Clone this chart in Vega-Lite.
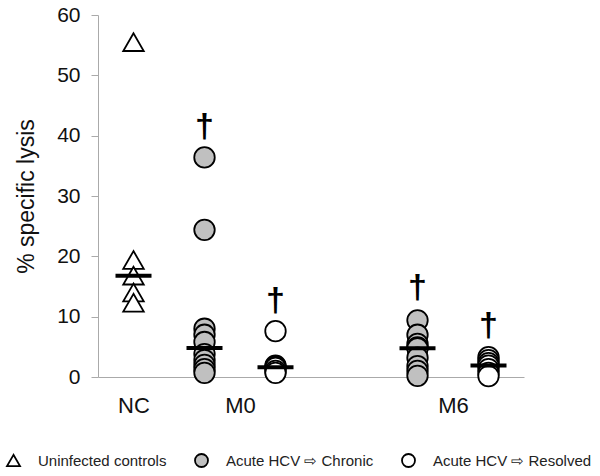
{
  "$schema": "https://vega.github.io/schema/vega-lite/v6.json",
  "width": 426,
  "height": 362,
  "autosize": {"type": "none"},
  "padding": {"left": 98, "top": 15, "right": 76, "bottom": 99},
  "background": "white",
  "config": {
    "view": {"stroke": null},
    "font": "Liberation Sans",
    "axis": {"grid": false, "labelFont": "Liberation Sans", "titleFont": "Liberation Sans"}
  },
  "datasets": {
    "pts": [
      {"col": "NC", "group": "Uninfected controls", "val": 55.5},
      {"col": "NC", "group": "Uninfected controls", "val": 19.4},
      {"col": "NC", "group": "Uninfected controls", "val": 16.8},
      {"col": "NC", "group": "Uninfected controls", "val": 14.0},
      {"col": "NC", "group": "Uninfected controls", "val": 12.3},
      {"col": "M0c", "group": "Acute HCV ⇨ Chronic", "val": 36.4},
      {"col": "M0c", "group": "Acute HCV ⇨ Chronic", "val": 24.4},
      {"col": "M0c", "group": "Acute HCV ⇨ Chronic", "val": 8.0},
      {"col": "M0c", "group": "Acute HCV ⇨ Chronic", "val": 7.0},
      {"col": "M0c", "group": "Acute HCV ⇨ Chronic", "val": 5.8},
      {"col": "M0c", "group": "Acute HCV ⇨ Chronic", "val": 3.8},
      {"col": "M0c", "group": "Acute HCV ⇨ Chronic", "val": 2.8},
      {"col": "M0c", "group": "Acute HCV ⇨ Chronic", "val": 2.0},
      {"col": "M0c", "group": "Acute HCV ⇨ Chronic", "val": 1.3},
      {"col": "M0c", "group": "Acute HCV ⇨ Chronic", "val": 0.7},
      {"col": "M0r", "group": "Acute HCV ⇨ Resolved", "val": 7.6},
      {"col": "M0r", "group": "Acute HCV ⇨ Resolved", "val": 1.9},
      {"col": "M0r", "group": "Acute HCV ⇨ Resolved", "val": 1.7},
      {"col": "M0r", "group": "Acute HCV ⇨ Resolved", "val": 1.5},
      {"col": "M0r", "group": "Acute HCV ⇨ Resolved", "val": 1.0},
      {"col": "M0r", "group": "Acute HCV ⇨ Resolved", "val": 0.7},
      {"col": "M6c", "group": "Acute HCV ⇨ Chronic", "val": 9.4},
      {"col": "M6c", "group": "Acute HCV ⇨ Chronic", "val": 7.0},
      {"col": "M6c", "group": "Acute HCV ⇨ Chronic", "val": 5.5},
      {"col": "M6c", "group": "Acute HCV ⇨ Chronic", "val": 4.9},
      {"col": "M6c", "group": "Acute HCV ⇨ Chronic", "val": 4.75},
      {"col": "M6c", "group": "Acute HCV ⇨ Chronic", "val": 3.2},
      {"col": "M6c", "group": "Acute HCV ⇨ Chronic", "val": 1.8},
      {"col": "M6c", "group": "Acute HCV ⇨ Chronic", "val": 1.0},
      {"col": "M6c", "group": "Acute HCV ⇨ Chronic", "val": 0.2},
      {"col": "M6r", "group": "Acute HCV ⇨ Resolved", "val": 3.3},
      {"col": "M6r", "group": "Acute HCV ⇨ Resolved", "val": 2.8},
      {"col": "M6r", "group": "Acute HCV ⇨ Resolved", "val": 2.3},
      {"col": "M6r", "group": "Acute HCV ⇨ Resolved", "val": 1.9},
      {"col": "M6r", "group": "Acute HCV ⇨ Resolved", "val": 1.3},
      {"col": "M6r", "group": "Acute HCV ⇨ Resolved", "val": 0.7},
      {"col": "M6r", "group": "Acute HCV ⇨ Resolved", "val": 0.15}
    ],
    "daggers": [
      {"col": "M0c", "val": 41.4, "sym": "†"},
      {"col": "M0r", "val": 12.6, "sym": "†"},
      {"col": "M6c", "val": 14.8, "sym": "†"},
      {"col": "M6r", "val": 8.5, "sym": "†"}
    ]
  },
  "encoding": {
    "x": {
      "field": "col",
      "type": "nominal",
      "scale": {
        "type": "point",
        "padding": 1,
        "domain": ["NC", "a", "M0c", "M0", "M0r", "b", "gap", "c", "M6c", "M6", "M6r"]
      },
      "axis": {
        "title": null,
        "values": ["NC", "M0", "M6"],
        "labelAngle": 0,
        "ticks": false,
        "domainColor": "#aaaaaa",
        "domainWidth": 1,
        "labelFontSize": 22,
        "labelColor": "#111111",
        "labelPadding": 18
      }
    },
    "y": {
      "field": "val",
      "type": "quantitative",
      "title": "% specific lysis",
      "scale": {"domain": [0, 60], "nice": false},
      "axis": {
        "values": [0, 10, 20, 30, 40, 50, 60],
        "domainColor": "#aaaaaa",
        "tickColor": "#aaaaaa",
        "tickSize": 7,
        "labelFontSize": 21,
        "labelColor": "#111111",
        "labelPadding": 11,
        "titleFontSize": 23,
        "titleFontWeight": "normal",
        "titleColor": "#111111",
        "titlePadding": 18
      }
    }
  },
  "layer": [
    {
      "data": {"name": "pts"},
      "mark": {"type": "point", "filled": true, "stroke": "black", "strokeWidth": 1.8, "opacity": 1, "size": 420},
      "encoding": {
        "fill": {
          "field": "group",
          "type": "nominal",
          "scale": {
            "domain": ["Uninfected controls", "Acute HCV ⇨ Chronic", "Acute HCV ⇨ Resolved"],
            "range": ["white", "#c0c0c0", "white"]
          },
          "legend": {
            "title": null,
            "orient": "none",
            "direction": "horizontal",
            "legendX": -92,
            "legendY": 438,
            "padding": 0,
            "gridAlign": "none",
            "symbolSize": 169,
            "symbolStrokeColor": "black",
            "symbolStrokeWidth": 1.8,
            "labelFontSize": 15,
            "labelFont": "Liberation Sans",
            "labelColor": "#222222",
            "labelOffset": 17,
            "columnPadding": 24,
            "symbolOpacity": 1,
            "symbolType": "circle",
            "encode": {
              "symbols": {
                "update": {
                  "stroke": {"value": "black"},
                  "strokeWidth": {"value": 1.8},
                  "opacity": {"value": 1}
                }
              }
            }
          }
        },
        "shape": {
          "field": "group",
          "type": "nominal",
          "scale": {
            "domain": ["Uninfected controls", "Acute HCV ⇨ Chronic", "Acute HCV ⇨ Resolved"],
            "range": ["triangle-up", "circle", "circle"]
          },
          "legend": {
            "title": null,
            "orient": "none",
            "direction": "horizontal",
            "legendX": -92,
            "legendY": 438,
            "padding": 0,
            "gridAlign": "none",
            "symbolSize": 169,
            "symbolStrokeColor": "black",
            "symbolStrokeWidth": 1.8,
            "labelFontSize": 15,
            "labelFont": "Liberation Sans",
            "labelColor": "#222222",
            "labelOffset": 17,
            "columnPadding": 24,
            "symbolOpacity": 1,
            "encode": {
              "symbols": {
                "update": {
                  "stroke": {"value": "black"},
                  "strokeWidth": {"value": 1.8},
                  "opacity": {"value": 1}
                }
              }
            }
          }
        }
      }
    },
    {
      "data": {"name": "pts"},
      "transform": [
        {"aggregate": [{"op": "median", "field": "val", "as": "val"}], "groupby": ["col"]}
      ],
      "mark": {"type": "tick", "color": "black", "thickness": 4, "size": 36, "opacity": 1}
    },
    {
      "data": {"name": "daggers"},
      "mark": {"type": "text", "fontSize": 34, "fontWeight": "bold", "baseline": "middle", "align": "center", "color": "black", "font": "Liberation Sans"},
      "encoding": {"text": {"field": "sym"}}
    }
  ]
}
